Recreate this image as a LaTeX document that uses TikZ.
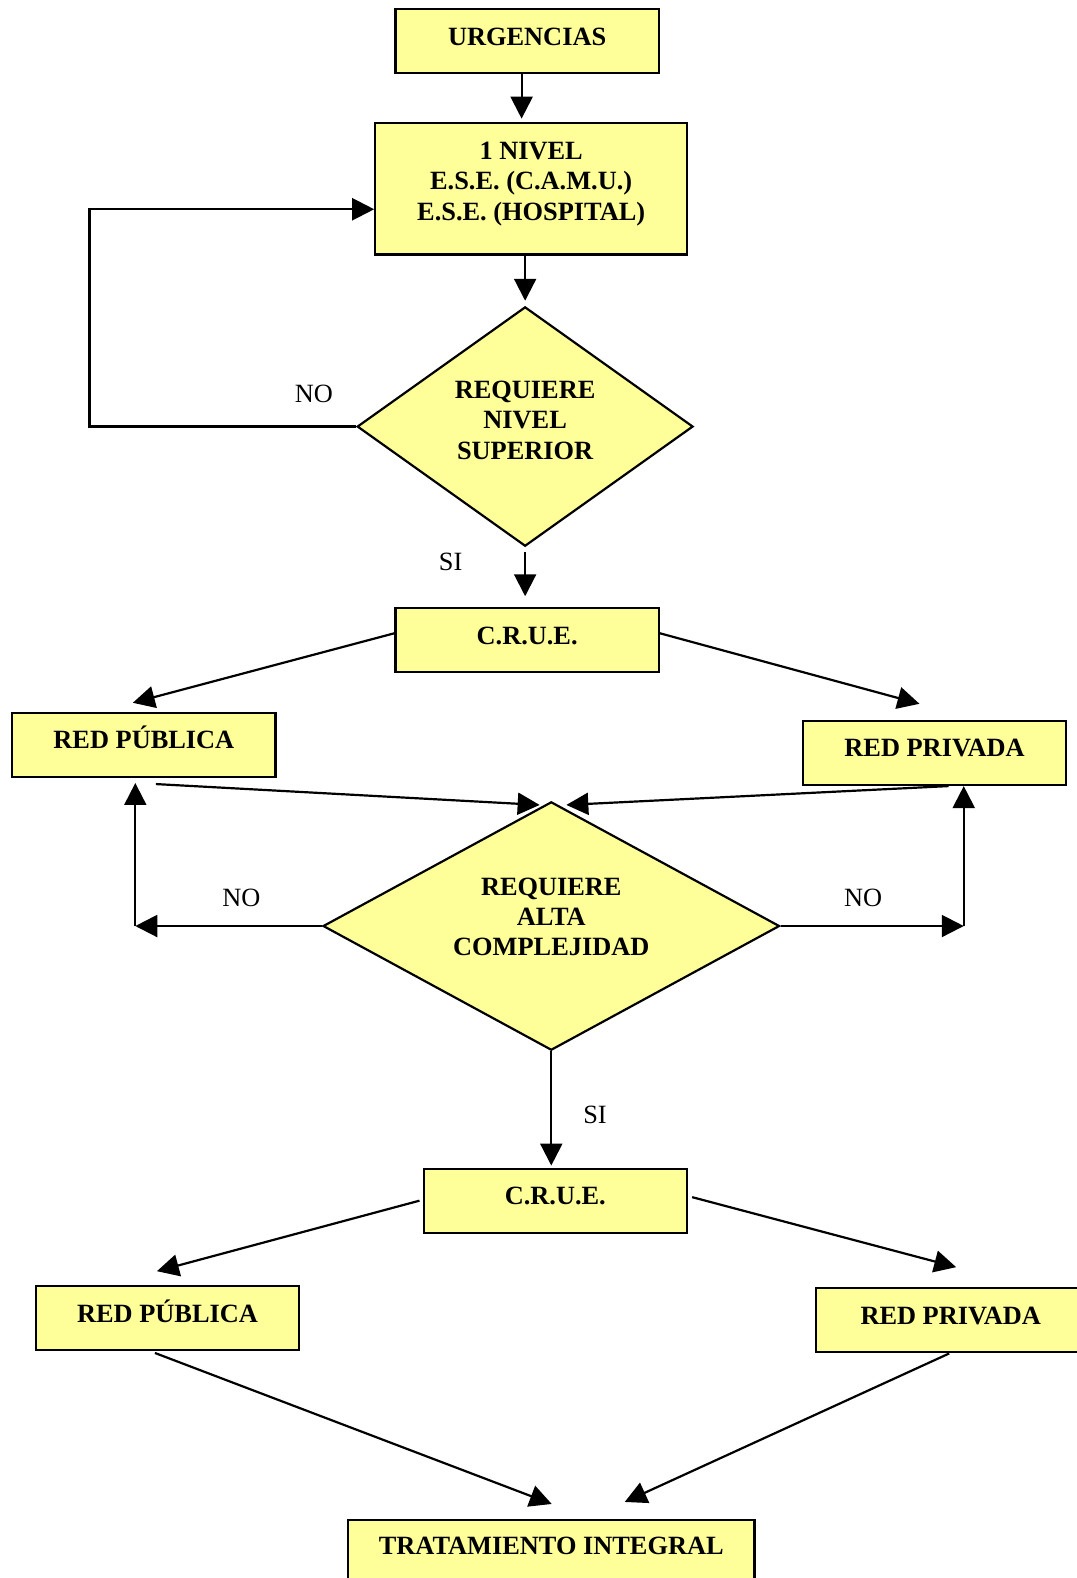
\documentclass[tikz,border=0pt]{standalone}
\usepackage{fontspec}
\setmainfont{Liberation Serif}
\usetikzlibrary{shapes.geometric,arrows.meta,calc}
\definecolor{boxyellow}{HTML}{FFFF99}
\begin{document}
\begin{tikzpicture}[x=0.02012cm,y=-0.02012cm,
  box/.style={draw=black, line width=1.25pt, fill=boxyellow, minimum width=5.27cm,
    minimum height=1.28cm, inner sep=0pt, font=\bfseries\fontsize{15}{17.2}\selectfont},
  oneline/.style={text height=10pt, text depth=5.5pt},
  dia/.style={diamond, draw=black, line width=1.25pt, fill=boxyellow, inner sep=0pt,
    font=\bfseries\fontsize{15}{17.2}\selectfont},
  arr/.style={draw=black, line width=1.25pt, -{Triangle[length=12.5pt,width=12.5pt]}},
  lab/.style={font=\fontsize{15}{17.2}\selectfont, inner sep=0pt}]
\path[use as bounding box] (0,0) rectangle (1069.6,1568.6);

% nodes
\node[box, oneline] (urg) at (524,41) {URGENCIAS};
\node[box, minimum width=6.237cm, minimum height=2.636cm] (niv) at (528,187.5)
  {\begin{tabular}{c}1 NIVEL\\E.S.E. (C.A.M.U.)\\E.S.E. (HOSPITAL)\\[5.4pt]\end{tabular}};
\node[dia, shape aspect=1.4, minimum width=6.72cm, minimum height=4.789cm] (d1) at (522,424)
  {\begin{tabular}{c}REQUIERE\\NIVEL\\SUPERIOR\\[4.3pt]\end{tabular}};
\node[box, oneline] (crue1) at (524,636.5) {C.R.U.E.};
\node[box, oneline] (pub1) at (143,740.5) {RED PÚBLICA};
\node[box, oneline] (priv1) at (929,748.5) {RED PRIVADA};
\node[dia, shape aspect=1.84, minimum width=9.134cm, minimum height=4.97cm] (d2) at (548,920.5)
  {\begin{tabular}{c}REQUIERE\\ALTA\\COMPLEJIDAD\\[7.5pt]\end{tabular}};
\node[box, oneline] (crue2) at (552,1193.5) {C.R.U.E.};
\node[box, oneline] (pub2) at (166.5,1310.5) {RED PÚBLICA};
\node[box, oneline, minimum width=5.4cm] (priv2) at (945,1312.5) {RED PRIVADA};
\node[box, anchor=north, minimum width=8.13cm, text height=19.8pt, text depth=30pt] (trat) at (548,1510)
  {TRATAMIENTO INTEGRAL};

% labels
\node[lab] (no1) at (312,392) {NO};
\node[lab] (si1) at (448,559) {SI};
\node[lab] (no2) at (240,892.5) {NO};
\node[lab] (no3) at (858,892.5) {NO};
\node[lab] (si2) at (591.5,1108) {SI};

% connectors
\coordinate (a1s) at ($(urg.south)+(-5.5,0)$);
\draw[arr, shorten >=0.06cm] (a1s) -- (a1s |- niv.north);
\draw[arr, shorten >=0.1cm] (niv.south -| d1.north) -- (d1.north);
\coordinate (lb) at (89,424);
\coordinate (lt) at (89,208);
\draw[arr] (d1.west) -- (lb) -- (lt) -- (lt -| niv.west);
\draw[arr, shorten <=0.1cm, shorten >=0.22cm] (d1.south) -- (d1.south |- crue1.north);
\draw[arr] ($(crue1.west)+(0,-7)$) -- ($(pub1.north)+(-11,-9)$);
\draw[arr] ($(crue1.east)+(0,-7)$) -- ($(priv1.north)+(-15,-16)$);
\draw[arr] ($(pub1.south)+(12,6)$) -- ($(d2.north)+(-11.6,4.2)$);
\draw[arr] ($(priv1.south)+(14,0)$) -- ($(d2.north)+(15,4.2)$);
\coordinate (nl) at (134.5,920.5);
\coordinate (nr) at (958,920.5);
\draw[arr] (d2.west) -- (nl);
\draw[arr, shorten >=0.1cm] (nl) -- (nl |- pub1.south);
\draw[arr] (d2.east) -- (nr);
\draw[arr] (nr) -- (nr |- priv1.south);
\draw[arr, shorten >=0.04cm] (d2.south) -- (d2.south |- crue2.north);
\draw[arr] ($(crue2.west)+(-3,0)$) -- ($(pub2.north)+(-10.5,-14)$);
\draw[arr] ($(crue2.east)+(4,-3.5)$) -- ($(priv2.north)+(5.5,-20)$);
\draw[arr] ($(pub2.south)+(-12.5,1.5)$) -- ($(trat.north)+(0.4,-15)$);
\draw[arr] ($(priv2.south)+(-1.5,0)$) -- ($(trat.north)+(73,-17)$);
\end{tikzpicture}
\end{document}
